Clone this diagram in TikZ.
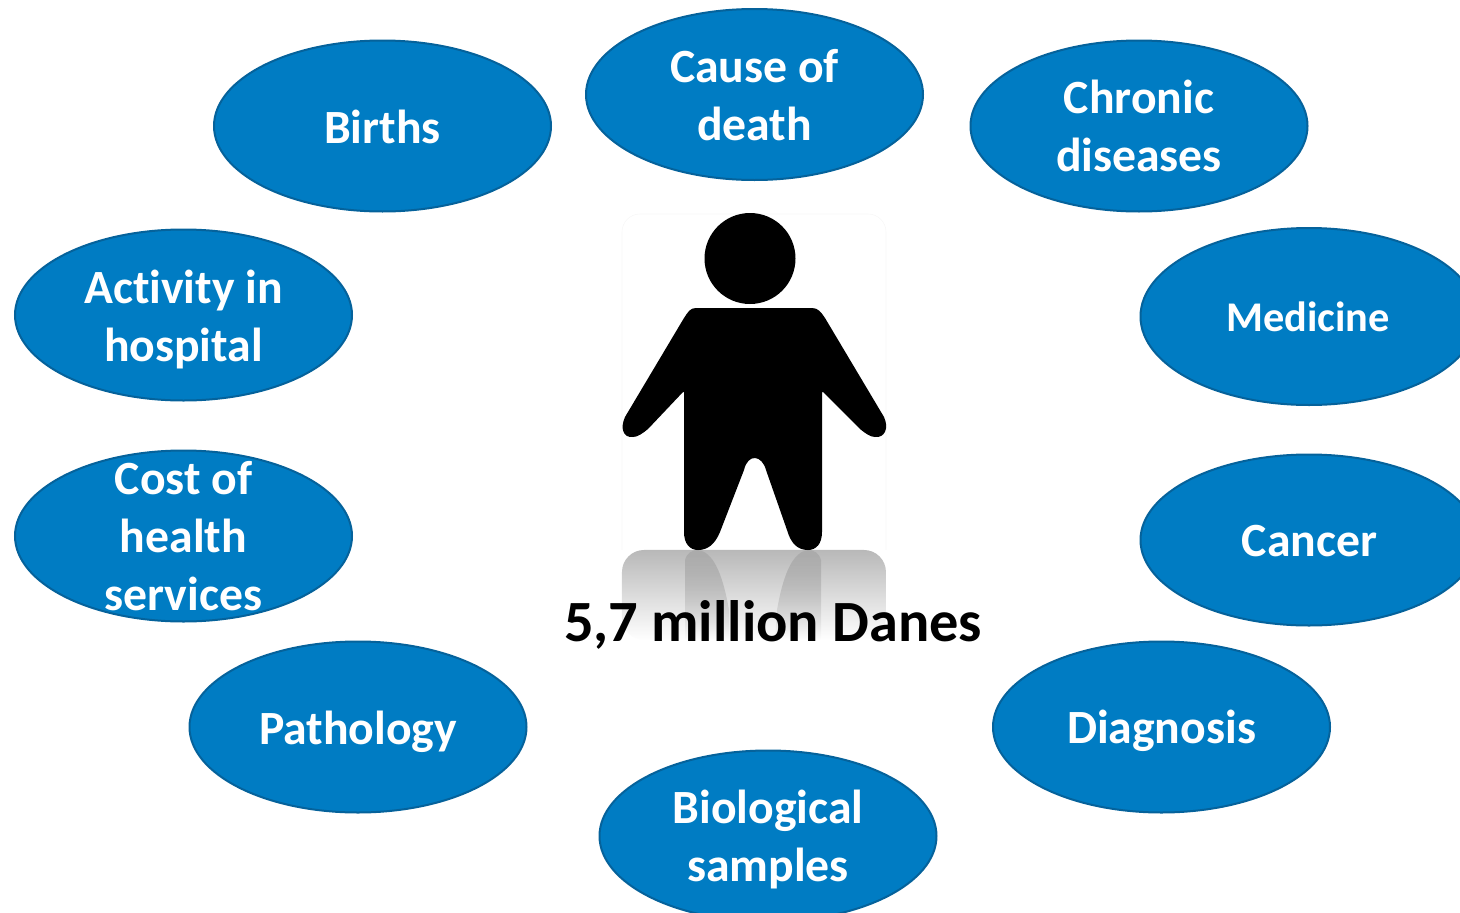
\documentclass[tikz,border=0pt]{standalone}
\usepackage{fontspec}
\setmainfont{Carlito}[Ligatures=NoCommon]
\usetikzlibrary{shapes.geometric,fadings}
\definecolor{blob}{HTML}{007CC3}
\definecolor{blobline}{HTML}{05629B}
\tikzfading[name=reflfade,top color=transparent!0,bottom color=transparent!100]
\tikzset{
  topic/.style={ellipse,draw=blobline,line width=2pt,fill=blob,
    minimum width=337pt,minimum height=171pt,inner sep=0pt},
  bigtopic/.style={topic,minimum height=177pt},
  topictext/.style={text=white,inner sep=0pt,align=center,
    font=\fontsize{47.7}{58}\selectfont\bfseries},
  medtext/.style={topictext,font=\fontsize{42.3}{58}\selectfont\bfseries},
  capt/.style={inner sep=0pt,text=black,font=\fontsize{58.4}{60}\selectfont\bfseries}
}
\begin{document}
\begin{tikzpicture}[x=1pt,y=-1pt]
\useasboundingbox (0,0) rectangle (1460,913);
\clip (0,0) rectangle (1460,913);
% reflection panel
\fill[black!28,path fading=reflfade,rounded corners=22pt] (622,640) -- (622,550) -- (886,550) -- (886,640) -- cycle;
\fill[black!33,path fading=reflfade] (685,560) .. controls (687,553) and (692,550) .. (698,550) .. controls (712,552) and (722,570) .. (729,610) -- (729,640) -- (685,640) -- cycle;
\fill[black!33,path fading=reflfade] (821,560) .. controls (819,553) and (814,550) .. (808,550) .. controls (794,552) and (784,570) .. (777,610) -- (775,640) -- (821,640) -- cycle;
% faint panel
\draw[black!3,line width=0.6pt,rounded corners=18pt] (622,550) -- (622,214) -- (886,214) -- (886,550);
% figure
\fill[black] (750,258.5) circle[radius=45.5];
\fill[black] (696,308) -- (812,308)
  .. controls (818,308) and (821,312) .. (825,318)
  -- (884,417)
  .. controls (889,428) and (885,438) .. (875,437)
  .. controls (870,437) and (865,433) .. (860,429)
  -- (823,392) -- (822,392) -- (822,532)
  .. controls (822,544) and (816,550) .. (808,550)
  .. controls (798,550) and (791,544) .. (787,530)
  -- (766,470)
  .. controls (762,455) and (748,453) .. (744,470)
  -- (720,532)
  .. controls (715,544) and (708,550) .. (698,550)
  .. controls (690,550) and (684,544) .. (684,532)
  -- (684,392) -- (683,392)
  -- (648,429)
  .. controls (643,433) and (638,437) .. (633,437)
  .. controls (623,438) and (620,428) .. (625,417)
  -- (684,318)
  .. controls (688,312) and (690,308) .. (696,308) -- cycle;
\node[capt] (danes) at (773,625) {5,7 million Danes};
% topics
\node[topic] (births) at (382.5,126) {};
\node[topictext] (birthst) at (382.5,126.5) {Births};
\node[topic] (death) at (754.5,94.5) {};
\node[topictext] (deatht) at (754.5,95.5) {Cause of\\death};
\node[topic] (chronic) at (1139,126) {};
\node[topictext] (chronict) at (1139,126) {Chronic\\diseases};
\node[bigtopic] (medicine) at (1309,316.5) {};
\node[medtext] (medicinet) at (1308,317) {Medicine};
\node[topic] (activity) at (183.5,315) {};
\node[topictext] (activityt) at (183.5,320) {Activity in\\hospital};
\node[topic] (cost) at (183.5,536) {};
\node[topictext] (costt) at (183.5,536.5) {Cost of\\health\\services};
\node[topic] (cancer) at (1309,540) {};
\node[topictext] (cancert) at (1309.5,541.5) {Cancer};
\node[topic] (pathology) at (358,727) {};
\node[topictext] (pathologyt) at (358,732) {Pathology};
\node[topic] (diagnosis) at (1161.5,727) {};
\node[topictext] (diagnosist) at (1161.5,731) {Diagnosis};
\node[topic] (samples) at (768,836) {};
\node[topictext] (samplest) at (768,840) {Biological\\samples};
\end{tikzpicture}
\end{document}
